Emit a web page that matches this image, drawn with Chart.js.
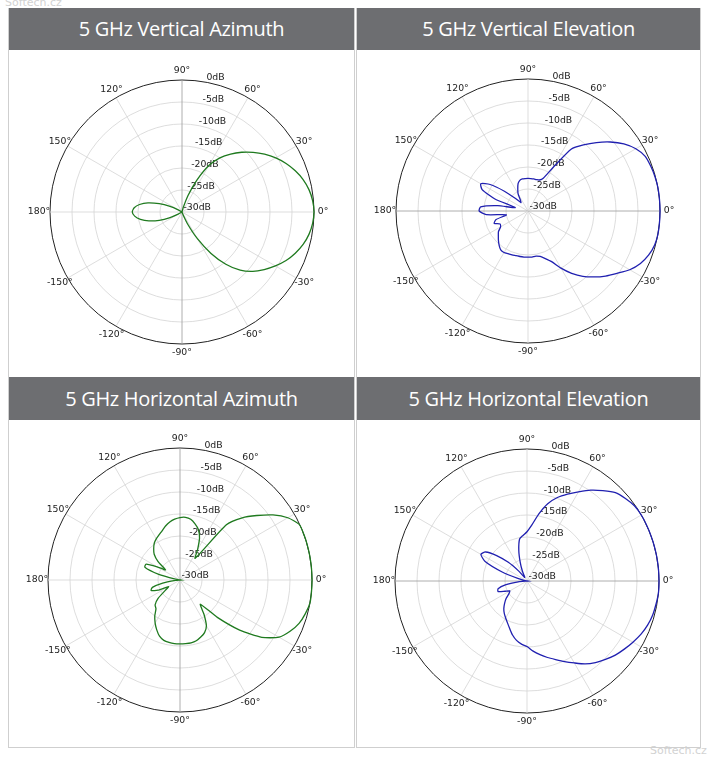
<!DOCTYPE html>
<html>
<head>
<meta charset="utf-8">
<script src="https://cdn.jsdelivr.net/npm/chart.js@4.4.1/dist/chart.umd.min.js"></script>
<style>
body { margin:0; width:709px; height:758px; background:#fff; position:relative; overflow:hidden; font-family:'DejaVu Sans'; }
.frame { position:absolute; border:1px solid #cfcfcf; box-sizing:border-box; }
.head { position:absolute; background:#6d6e71; color:#fff; font-family:'Open Sans'; font-size:20px; letter-spacing:-0.3px; text-align:center; }
canvas { position:absolute; }
.mark { position:absolute; color:#d2d2d2; font-size:11px; }
</style>
</head>
<body>
<div class="mark" style="left:5px; top:-4px;">Softech.cz</div>
<div class="mark" style="left:650px; top:744px;">Softech.cz</div>

<div class="frame" style="left:8px; top:8px; width:347px; height:740px;"></div>
<div class="frame" style="left:356px; top:8px; width:345px; height:740px;"></div>

<div class="head" style="left:9px; top:8px; width:345px; height:42px; line-height:42px;">5 GHz Vertical Azimuth</div>
<div class="head" style="left:357px; top:8px; width:343px; height:42px; line-height:42px;">5 GHz Vertical Elevation</div>
<div class="head" style="left:9px; top:377px; width:345px; height:43px; line-height:43px;">5 GHz Horizontal Azimuth</div>
<div class="head" style="left:357px; top:377px; width:343px; height:43px; line-height:43px;">5 GHz Horizontal Elevation</div>

<canvas id="vAz" width="330" height="300" style="left:17px; top:62px;"></canvas>
<canvas id="vEl" width="330" height="300" style="left:363px; top:61px;"></canvas>
<canvas id="hAz" width="330" height="300" style="left:15px; top:430px;"></canvas>
<canvas id="hEl" width="330" height="300" style="left:362px; top:431px;"></canvas>

<script>
// úhly ve směru hodinových ručiček od 90° (tak je kreslí radar)
const angles = [90, 85, 80, 75, 70, 65, 60, 55, 50, 45, 40, 35, 30, 25, 20, 15, 10, 5, 0,
    -5, -10, -15, -20, -25, -30, -35, -40, -45, -50, -55, -60, -65, -70, -75, -80, -85, -90,
    -95, -100, -105, -110, -115, -120, -125, -130, -135, -140, -145, -150, -155, -160, -165, -170, -175,
    180, 175, 170, 165, 160, 155, 150, 145, 140, 135, 130, 125, 120, 115, 110, 105, 100, 95];

const tickValues = [-30, -25, -20, -15, -10, -5, 0];
const tickLabels = ['-30dB', '-25dB', '-20dB', '-15dB', '-10dB', '-5dB', '0dB'];

const vertAzimuth = [-30, -30, -30, -29, -26, -22, -17.8, -15, -12.8, -10.8, -8.9, -7.1, -5.4, -3.9, -2.6, -1.5, -0.7, -0.2, 0,
    -0.2, -0.7, -1.5, -2.6, -3.9, -5.5, -7.2, -9, -11.3, -14.5, -18.5, -23, -27, -29.5, -30, -30, -30, -30,
    -30, -30, -30, -30, -30, -30, -30, -30, -30, -30, -30, -29, -27, -24.5, -22.2, -20.4, -19.2,
    -18.7,
    -19.1, -20.2, -22, -24.5, -27, -29, -30, -30, -30, -30, -30, -30, -30, -30, -30, -30, -30];

const vertElevation = [-22.6, -22.6, -22.6, -22.6, -22.5, -21.8, -18.5, -12.8, -10.4, -8, -5.6, -3.4, -1.7, -0.6, -0.3, -0.1, 0, 0, 0,
    0, 0, -0.2, -0.8, -1.8, -3.3, -5.3, -7, -8.8, -10.6, -12.7, -15, -17.3, -18.5, -19.3, -19.6, -19.5, -19.5,
    -19.5, -19.5, -19.5, -19.4, -19.3, -19.1, -19.2, -19.8, -20.5, -21.2, -21.8, -22.8, -23, -21.8, -22.5, -25, -20.5,
    -18.9,
    -19.2, -23, -27, -22, -18.5, -17.6, -19.5, -23, -26, -27.5, -27, -25.5, -24.5, -23.4, -22.8, -22.6, -22.6];

const horizAzimuth = [-15.8, -15.7, -16, -16.8, -17.8, -19.5, -22, -24, -13.6, -10, -7.2, -4.2, -1.7, -0.1, 0, 0, 0, 0, 0,
    0, 0, -0.5, -1.2, -2.4, -4, -7.3, -12.3, -18, -22.8, -20.5, -18, -16.8, -16.2, -15.7, -15.5, -15.5, -15.5,
    -15.5, -15.6, -15.8, -16.4, -17.5, -18.7, -20, -21.5, -22, -23.5, -26, -27, -24.5, -23, -23.5, -26, -29,
    -30,
    -30, -29, -25, -21.5, -21.5, -24, -26, -23.5, -21.7, -20.7, -19.8, -19.2, -18.7, -18.1, -17.3, -16.6, -16.1];

const horizElevation = [-18.8, -17.2, -14.5, -11.8, -9.8, -8.2, -6.6, -4.8, -3.2, -1.6, -0.8, -0.2, 0, 0, 0, 0, 0, 0, 0,
    0, -0.2, -0.4, -0.8, -1.4, -2.2, -3, -3.8, -4.8, -5.8, -7, -8.5, -9.8, -11, -12, -13, -14, -15.1,
    -15.6, -16.3, -17.3, -18.5, -19.5, -20.3, -21, -21.8, -22.8, -23.8, -25, -25.5, -24.5, -23, -23.2, -25, -28,
    -30,
    -30, -29.5, -28, -24, -19.5, -17.9, -18.5, -21, -24, -27, -29, -29, -27.5, -25.5, -22.8, -20.3, -19.6];

const green = '#1f7a1f';
const blue = '#2020b0';

// popisky dB podél paprsku 80° a popisky úhlů po 30°
const polarLabels = {
    id: 'polarLabels',
    beforeDatasetsDraw(chart) {
        const scale = chart.scales.r;
        const ctx = chart.ctx;
        const idx = angles.indexOf(80);
        ctx.save();
        ctx.font = '9.3px "DejaVu Sans"';
        ctx.fillStyle = '#222';
        ctx.textAlign = 'left';
        ctx.textBaseline = 'bottom';
        tickValues.forEach((v, i) => {
            const p = scale.getPointPositionForValue(idx, v);
            ctx.fillText(tickLabels[i], p.x + 1.5, p.y + 0.5);
        });
        ctx.textAlign = 'center';
        ctx.textBaseline = 'middle';
        angles.forEach((a, i) => {
            if (a % 30 !== 0) return;
            const p = scale.getPointPosition(i, scale.drawingArea + (a === 180 ? 11 : 9));
            ctx.fillText(a + '°', p.x, p.y);
        });
        ctx.restore();
    }
};

function createPolarChart(canvasId, values, color, darkSpokes) {
    const ctx = document.getElementById(canvasId).getContext('2d');
    return new Chart(ctx, {
        type: 'radar',
        data: {
            labels: angles,
            datasets: [{
                data: values,
                borderColor: color,
                borderWidth: 1.3,
                fill: false,
                pointRadius: 0,
                tension: 0.2
            }]
        },
        options: {
            responsive: false,
            animation: false,
            layout: { padding: { left: 33, right: 33, top: 18, bottom: 18 } },
            plugins: {
                legend: { display: false },
                tooltip: { enabled: false }
            },
            scales: {
                r: {
                    min: -30,
                    max: 0,
                    ticks: { stepSize: 5, display: false },
                    grid: {
                        circular: true,
                        color: c => c.tick && c.tick.value === 0 ? '#222' : '#d4d4d4',
                        lineWidth: c => c.tick && c.tick.value === 0 ? 1 : 0.8
                    },
                    angleLines: {
                        color: c => darkSpokes.includes(c.index) ? '#9a9a9a' : '#d4d4d4',
                        lineWidth: c => angles[c.index] % 30 === 0 ? 0.8 : 0
                    },
                    pointLabels: { display: false }
                }
            }
        },
        plugins: [polarLabels]
    });
}

createPolarChart('vAz', vertAzimuth, green, [0, 36]);
createPolarChart('vEl', vertElevation, blue, [18, 54]);
createPolarChart('hAz', horizAzimuth, green, [0, 36]);
createPolarChart('hEl', horizElevation, blue, [18, 54]);
</script>
</body>
</html>
